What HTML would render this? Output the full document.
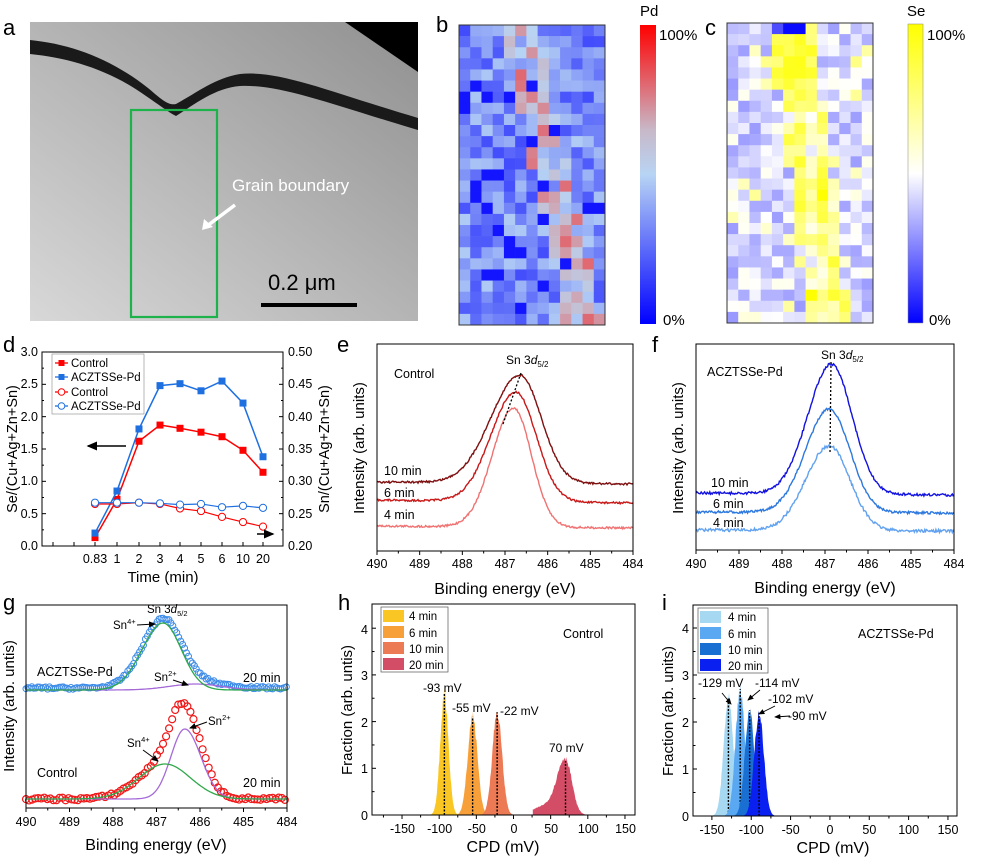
<!DOCTYPE html>
<html><head><meta charset="utf-8"><style>
body{margin:0;background:#fff}
svg{display:block;font-family:"Liberation Sans",Arial,sans-serif}
</style></head><body>
<svg id="s" width="1000" height="860" viewBox="0 0 1000 860" xmlns="http://www.w3.org/2000/svg">
<defs>
<linearGradient id="tem" x1="0" y1="1" x2="1" y2="0">
<stop offset="0" stop-color="#d8d8d8"/><stop offset="0.45" stop-color="#b8b8b8"/><stop offset="1" stop-color="#909090"/>
</linearGradient>
<linearGradient id="cbPd" x1="0" y1="1" x2="0" y2="0">
<stop offset="0" stop-color="#0000ff"/><stop offset="0.5" stop-color="#b8d4f4"/><stop offset="0.65" stop-color="#c8b8c8"/><stop offset="1" stop-color="#ff0000"/>
</linearGradient>
<linearGradient id="cbSe" x1="0" y1="1" x2="0" y2="0">
<stop offset="0" stop-color="#0000ff"/><stop offset="0.5" stop-color="#ffffff"/><stop offset="1" stop-color="#ffff00"/>
</linearGradient>
<marker id="ah" markerWidth="8" markerHeight="8" refX="6" refY="4" orient="auto"><path d="M0,1 L7,4 L0,7 z" fill="#000"/></marker>
</defs>

<!-- panel a -->
<rect x="30" y="22" width="388" height="299" fill="url(#tem)"/>
<path d="M30,40 C70,44 110,58 148,88 C160,98 168,106 176,104 C198,92 215,78 240,74 C280,70 330,92 418,118 L418,130 C330,104 280,84 240,86 C215,88 195,104 176,116 C168,112 158,104 146,96 C110,70 70,58 30,54 Z" fill="#1a1a1a"/>
<path d="M345,22 L418,22 L418,72 Z" fill="#000"/>
<rect x="131" y="110" width="86" height="207" fill="none" stroke="#1db34a" stroke-width="2.2"/>
<text x="232" y="191" font-size="17" fill="#fff">Grain boundary</text>
<line x1="235" y1="205" x2="207" y2="226" stroke="#fff" stroke-width="3.5"/>
<path d="M202,230 L204,219 L213,227 Z" fill="#fff"/>
<text x="268" y="290" font-size="22" fill="#000">0.2 μm</text>
<rect x="261" y="303" width="96" height="4" fill="#000"/>
<text x="3" y="35" font-size="22">a</text>

<!-- panel b/c -->
<text x="436" y="32" font-size="22">b</text>
<g id="hb"></g>
<rect x="459" y="25" width="146" height="300" fill="none" stroke="#333" stroke-width="1"/>
<rect x="640" y="25" width="16" height="299" fill="url(#cbPd)"/>
<text x="640" y="16" font-size="15">Pd</text>
<text x="659" y="40" font-size="15">100%</text>
<text x="663" y="325" font-size="15">0%</text>

<text x="705" y="35" font-size="22">c</text>
<g id="hc"></g>
<rect x="727" y="23" width="146" height="300" fill="none" stroke="#333" stroke-width="1"/>
<rect x="908" y="24" width="15" height="299" fill="url(#cbSe)" stroke="#888" stroke-width="0.5"/>
<text x="907" y="16" font-size="15">Se</text>
<text x="927" y="40" font-size="15">100%</text>
<text x="929" y="325" font-size="15">0%</text>

<!-- panel d -->
<text x="3" y="352" font-size="22">d</text>
<g id="gd"></g>
<rect x="42" y="352" width="241" height="194" fill="none" stroke="#000" stroke-width="1"/>
<g font-size="12.5" text-anchor="end">
<text x="38" y="550">0.0</text><text x="38" y="518">0.5</text><text x="38" y="485">1.0</text><text x="38" y="453">1.5</text><text x="38" y="421">2.0</text><text x="38" y="388">2.5</text><text x="38" y="356">3.0</text>
</g>
<g font-size="12.5">
<text x="288" y="550">0.20</text><text x="288" y="518">0.25</text><text x="288" y="485">0.30</text><text x="288" y="453">0.35</text><text x="288" y="421">0.40</text><text x="288" y="388">0.45</text><text x="288" y="356">0.50</text>
</g>
<g font-size="12.5" text-anchor="middle">
<text x="95" y="563">0.83</text><text x="117" y="563">1</text><text x="139" y="563">2</text><text x="160" y="563">3</text><text x="180" y="563">4</text><text x="201" y="563">5</text><text x="222" y="563">6</text><text x="243" y="563">10</text><text x="263" y="563">20</text>
</g>
<text x="163" y="582" font-size="15" text-anchor="middle">Time (min)</text>
<text transform="translate(17,449) rotate(-90)" font-size="14.5" text-anchor="middle">Se/(Cu+Ag+Zn+Sn)</text>
<text transform="translate(329,449) rotate(-90)" font-size="14.5" text-anchor="middle">Sn/(Cu+Ag+Zn+Sn)</text>
<rect x="52" y="354" width="92" height="60" fill="#fff" stroke="#888" stroke-width="0.6"/>
<g font-size="11.5">
<line x1="55" y1="363" x2="68" y2="363" stroke="#f00" stroke-width="1.3"/><rect x="58.5" y="360" width="6" height="6" fill="#f00"/><text x="71" y="367">Control</text>
<line x1="55" y1="377" x2="68" y2="377" stroke="#1e6fe0" stroke-width="1.3"/><rect x="58.5" y="374" width="6" height="6" fill="#1e6fe0"/><text x="71" y="381">ACZTSSe-Pd</text>
<line x1="55" y1="392" x2="68" y2="392" stroke="#f00" stroke-width="1.3"/><circle cx="61.5" cy="392" r="3.3" fill="#fff" stroke="#f00"/><text x="71" y="396">Control</text>
<line x1="55" y1="406" x2="68" y2="406" stroke="#1e6fe0" stroke-width="1.3"/><circle cx="61.5" cy="406" r="3.3" fill="#fff" stroke="#1e6fe0"/><text x="71" y="410">ACZTSSe-Pd</text>
</g>
<line x1="126" y1="446" x2="88" y2="446" stroke="#000" stroke-width="1.5" marker-end="url(#ah)"/>
<line x1="257" y1="534" x2="273" y2="534" stroke="#000" stroke-width="1.5" marker-end="url(#ah)"/>

<!-- panel e -->
<text x="337" y="352" font-size="22">e</text>
<g id="ge"></g>
<rect x="377" y="344" width="256" height="207" fill="none" stroke="#000" stroke-width="1"/>
<text x="394" y="378" font-size="12.5">Control</text>
<text x="506" y="364" font-size="12">Sn 3<tspan font-style="italic">d</tspan><tspan font-size="8" dy="3">5/2</tspan></text>
<line x1="503" y1="424" x2="521" y2="373" stroke="#000" stroke-width="1.3" stroke-dasharray="2,2"/>
<g font-size="12.5"><text x="384" y="475">10 min</text><text x="384" y="497">6 min</text><text x="384" y="519">4 min</text></g>
<g id="xe" font-size="12.5" text-anchor="middle"></g>
<text x="505" y="594" font-size="16" text-anchor="middle">Binding energy (eV)</text>
<text transform="translate(364,448) rotate(-90)" font-size="15" text-anchor="middle">Intensity (arb. units)</text>

<!-- panel f -->
<text x="652" y="352" font-size="22">f</text>
<g id="gf"></g>
<rect x="696" y="344" width="258" height="206" fill="none" stroke="#000" stroke-width="1"/>
<text x="707" y="376" font-size="12.5">ACZTSSe-Pd</text>
<text x="821" y="359" font-size="12">Sn 3<tspan font-style="italic">d</tspan><tspan font-size="8" dy="3">5/2</tspan></text>
<line x1="831" y1="362" x2="830" y2="454" stroke="#000" stroke-width="1.3" stroke-dasharray="2,2"/>
<g font-size="12.5"><text x="711" y="487">10 min</text><text x="713" y="508">6 min</text><text x="713" y="527">4 min</text></g>
<g id="xf" font-size="12.5" text-anchor="middle"></g>
<text x="825" y="593" font-size="16" text-anchor="middle">Binding energy (eV)</text>
<text transform="translate(683,448) rotate(-90)" font-size="15" text-anchor="middle">Intensity (arb. units)</text>

<!-- panel g -->
<text x="3" y="610" font-size="22">g</text>
<g id="gg"></g>
<rect x="26" y="605" width="261" height="203" fill="none" stroke="#000" stroke-width="1"/>
<text x="147" y="613" font-size="11.5">Sn 3<tspan font-style="italic">d</tspan><tspan font-size="7.5" dy="3">5/2</tspan></text>
<text x="113" y="629" font-size="11.5">Sn<tspan font-size="7.5" dy="-5">4+</tspan></text>
<line x1="137" y1="625" x2="155" y2="624" stroke="#000" stroke-width="1" marker-end="url(#ah)"/>
<text x="37" y="676" font-size="12.5">ACZTSSe-Pd</text>
<text x="154" y="681" font-size="11.5">Sn<tspan font-size="7.5" dy="-5">2+</tspan></text>
<line x1="173" y1="680" x2="188" y2="685" stroke="#000" stroke-width="1" marker-end="url(#ah)"/>
<text x="243" y="682" font-size="12.5">20 min</text>
<text x="208" y="725" font-size="11.5">Sn<tspan font-size="7.5" dy="-5">2+</tspan></text>
<line x1="207" y1="722" x2="190" y2="728" stroke="#000" stroke-width="1" marker-end="url(#ah)"/>
<text x="127" y="747" font-size="11.5">Sn<tspan font-size="7.5" dy="-5">4+</tspan></text>
<line x1="143" y1="750" x2="158" y2="761" stroke="#000" stroke-width="1" marker-end="url(#ah)"/>
<text x="37" y="777" font-size="12.5">Control</text>
<text x="243" y="787" font-size="12.5">20 min</text>
<g id="xg" font-size="12.5" text-anchor="middle"></g>
<text x="156" y="850" font-size="16" text-anchor="middle">Binding energy (eV)</text>
<text transform="translate(14,706) rotate(-90)" font-size="15" text-anchor="middle">Intensity (arb. untis)</text>

<!-- panel h -->
<text x="338" y="610" font-size="22">h</text>
<g id="gh"></g>
<rect x="372" y="604" width="263" height="211" fill="none" stroke="#000" stroke-width="1"/>
<text x="563" y="638" font-size="12.5">Control</text>
<rect x="381" y="607" width="67" height="65" fill="#fff" stroke="#555" stroke-width="0.7"/>
<g font-size="11.5">
<rect x="383" y="610" width="21" height="12" fill="#f9c623"/><text x="409" y="620">4 min</text>
<rect x="383" y="626" width="21" height="12" fill="#f7a03a"/><text x="409" y="637">6 min</text>
<rect x="383" y="642" width="21" height="12" fill="#ec7a55"/><text x="409" y="653">10 min</text>
<rect x="383" y="658" width="21" height="12" fill="#d44d66"/><text x="409" y="669">20 min</text>
</g>
<g font-size="12"><text x="423" y="692">-93 mV</text><text x="452" y="712">-55 mV</text><text x="500" y="715">-22 mV</text><text x="549" y="752">70 mV</text></g>
<g font-size="12.5" text-anchor="end"><text x="368" y="820">0</text><text x="368" y="773">1</text><text x="368" y="727">2</text><text x="368" y="680">3</text><text x="368" y="634">4</text></g>
<g id="xh" font-size="12.5" text-anchor="middle"></g>
<text x="503" y="852" font-size="16" text-anchor="middle">CPD (mV)</text>
<text transform="translate(352,710) rotate(-90)" font-size="15" text-anchor="middle">Fraction (arb. untis)</text>

<!-- panel i -->
<text x="662" y="610" font-size="22">i</text>
<g id="gi"></g>
<rect x="693" y="605" width="264" height="211" fill="none" stroke="#000" stroke-width="1"/>
<text x="858" y="638" font-size="12.5">ACZTSSe-Pd</text>
<rect x="698" y="608" width="70" height="65" fill="#fff" stroke="#555" stroke-width="0.7"/>
<g font-size="11.5">
<rect x="700" y="611" width="21" height="12" fill="#a6d8f2"/><text x="728" y="621">4 min</text>
<rect x="700" y="627" width="21" height="12" fill="#5aa8f2"/><text x="728" y="638">6 min</text>
<rect x="700" y="643" width="21" height="12" fill="#1a70d2"/><text x="728" y="654">10 min</text>
<rect x="700" y="659" width="21" height="12" fill="#0a20f0"/><text x="728" y="670">20 min</text>
</g>
<g font-size="12"><text x="698" y="687">-129 mV</text><text x="755" y="687">-114 mV</text><text x="768" y="703">-102 mV</text><text x="788" y="720">-90 mV</text></g>
<g stroke="#000" stroke-width="0.9">
<line x1="722" y1="693" x2="731" y2="704" marker-end="url(#ah)"/>
<line x1="760" y1="690" x2="748" y2="700" marker-end="url(#ah)"/>
<line x1="775" y1="706" x2="759" y2="714" marker-end="url(#ah)"/>
<line x1="790" y1="716" x2="775" y2="717" marker-end="url(#ah)"/>
</g>
<g font-size="12.5" text-anchor="end"><text x="689" y="821">0</text><text x="689" y="774">1</text><text x="689" y="727">2</text><text x="689" y="680">3</text><text x="689" y="633">4</text></g>
<g id="xi" font-size="12.5" text-anchor="middle"></g>
<text x="833" y="853" font-size="16" text-anchor="middle">CPD (mV)</text>
<text transform="translate(673,711) rotate(-90)" font-size="15" text-anchor="middle">Fraction (arb. units)</text>
</svg>
<script>
var NS="http://www.w3.org/2000/svg";
var seed=7;function rnd(){seed=(seed*16807)%2147483647;return (seed-1)/2147483646;}
function el(p,t,a){var e=document.createElementNS(NS,t);for(var k in a)e.setAttribute(k,a[k]);document.getElementById(p).appendChild(e);return e;}
function lerp(a,b,t){return a+(b-a)*t}
function mix(c1,c2,t){return "rgb("+[0,1,2].map(function(i){return Math.round(lerp(c1[i],c2[i],t))}).join(",")+")"}
function pdCol(v){var st=[[0,[0,0,255]],[0.5,[184,212,244]],[0.65,[200,184,200]],[1,[255,0,0]]];for(var i=1;i<st.length;i++)if(v<=st[i][0]){return mix(st[i-1][1],st[i][1],(v-st[i-1][0])/(st[i][0]-st[i-1][0]))}return "rgb(255,0,0)"}
function seCol(v){return v<0.5?mix([0,0,255],[255,255,255],v/0.5):mix([255,255,255],[255,255,0],(v-0.5)/0.5)}
var cw=146/13,ch=300/27;
for(var r=0;r<27;r++)for(var c=0;c<13;c++){
 var center=5+r*5.5/26;var d=Math.abs(c-center);
 var v=0.18+rnd()*0.3+(d<1.6?0.28*rnd()+0.12:0);if(rnd()<0.06)v=0.05;v=Math.min(1,v);
 el("hb","rect",{x:459+c*cw,y:25+r*ch,width:cw+0.3,height:ch+0.3,fill:pdCol(v)});
 var cc=5.5+r*3/26;var d2=Math.abs(c-cc);
 var w=0.3+rnd()*0.24+(d2<1.8?0.3*rnd()+0.12:0);if(rnd()<0.08)w+=0.2;if(r<6&&c>=4&&c<=7)w=0.75+rnd()*0.2;w=Math.min(1,w);
 if(r==0&&(c==5||c==6))w=0.02;if(r==0&&c==4)w=0.15;
 el("hc","rect",{x:727+c*cw,y:23+r*ch,width:cw+0.3,height:ch+0.3,fill:seCol(w)});
}
(function(){
var xs=[95,117,139,160,180,201,222,243,263];
function yl(v){return 546-v*64.67} function yr(v){return 546-(v-0.2)/0.3*194}
[[0.13,0.72,1.62,1.87,1.82,1.76,1.69,1.48,1.14,"#f00"],[0.2,0.85,1.81,2.48,2.51,2.40,2.55,2.21,1.38,"#1e6fe0"]].forEach(function(s){
 var p=xs.map(function(x,i){return x+","+yl(s[i])}).join(" ");el("gd","polyline",{points:p,fill:"none",stroke:s[9],"stroke-width":1.5});
 xs.forEach(function(x,i){el("gd","rect",{x:x-3.5,y:yl(s[i])-3.5,width:7,height:7,fill:s[9]})});});
[[0.265,0.265,0.267,0.265,0.258,0.254,0.245,0.237,0.230,"#f00"],[0.267,0.267,0.267,0.266,0.264,0.265,0.26,0.262,0.259,"#1e6fe0"]].forEach(function(s){
 var p=xs.map(function(x,i){return x+","+yr(s[i])}).join(" ");el("gd","polyline",{points:p,fill:"none",stroke:s[9],"stroke-width":1.2});
 xs.forEach(function(x,i){el("gd","circle",{cx:x,cy:yr(s[i]),r:3.6,fill:"#fff",stroke:s[9],"stroke-width":1})});});
for(var v=0;v<=3.01;v+=0.25){var y=yl(v);el("gd","line",{x1:42,y1:y,x2:v%0.5==0?46:44,y2:y,stroke:"#000"});el("gd","line",{x1:283,y1:y,x2:v%0.5==0?279:281,y2:y,stroke:"#000"});}
var tx=[53,74,95,117,139,160,180,201,222,243,263];tx.forEach(function(x){el("gd","line",{x1:x,y1:546,x2:x,y2:542,stroke:"#000"})});
})();
function gauss(x,c,s){return Math.exp(-(x-c)*(x-c)/(2*s*s))}
function axisX(id,x0,x1,yb,lo,hi,step,minor){for(var v=lo;v<=hi+1e-6;v+=minor){var x=x0+(v-lo)/(hi-lo)*(x1-x0);var major=Math.abs(((v-lo)/step)-Math.round((v-lo)/step))<1e-6;el(id,"line",{x1:x,y1:yb,x2:x,y2:yb+(major?4:2.5),stroke:"#000"});}}
function labelsX(id,x0,x1,y,lo,hi,step,rev){for(var v=lo;v<=hi+1e-6;v+=step){var x=x0+(v-lo)/(hi-lo)*(x1-x0);var t=el(id,"text",{x:x,y:y});t.textContent=rev?String(Math.round(rev-v)):String(Math.round(v));}}
function spec(id,x0,x1,curves){
 curves.forEach(function(c){var pts=[];for(var i=0;i<=300;i++){var e=490-i*6/300;var x=x0+(i/300)*(x1-x0);
  var sg=e>c.c?c.sl:c.sr;var b=lerp(c.bl,c.br,i/300);var y=b-(b-c.pk)*gauss(e,c.c,sg)+(rnd()-0.5)*c.n;pts.push(x.toFixed(1)+","+y.toFixed(1));}
  el(id,"polyline",{points:pts.join(" "),fill:"none",stroke:c.col,"stroke-width":1.4});});
}
spec("ge",377,633,[{c:486.8,sl:0.5,sr:0.42,bl:526,br:528,pk:408,col:"#f07272",n:2},{c:486.75,sl:0.58,sr:0.48,bl:500,br:503,pk:392,col:"#c81818",n:2},{c:486.65,sl:0.68,sr:0.5,bl:482,br:484,pk:375,col:"#7e1010",n:2}]);
spec("gf",696,954,[{c:486.9,sl:0.55,sr:0.48,bl:530,br:531,pk:446,col:"#62a2ef",n:3},{c:486.9,sl:0.55,sr:0.48,bl:512,br:513,pk:409,col:"#2c78de",n:2.5},{c:486.85,sl:0.55,sr:0.48,bl:493,br:495,pk:364,col:"#1212e0",n:2.5}]);
[["xe",377,633,551,568],["xf",696,954,550,568],["xg",26,287,808,826]].forEach(function(a){
 var g=a[0]=="xe"?"ge":a[0]=="xf"?"gf":"gg";axisX(g,a[1],a[2],a[3],0,6,1,0.5);labelsX(a[0],a[1],a[2],a[4],0,6,1,490);});
(function(){var x0=26,x1=287;function X(e){return x0+(490-e)/6*(x1-x0)}
 function line(f,col){var p=[];for(var i=0;i<=200;i++){var e=490-i*0.03;p.push(X(e).toFixed(1)+","+f(e).toFixed(1));}el("gg","polyline",{points:p.join(" "),fill:"none",stroke:col,"stroke-width":1.3});}
 var b1=690;
 function g4t(e){return 67*gauss(e,486.85,e>486.85?0.48:0.42)} function g2t(e){return 6*gauss(e,486.1,0.6)}
 for(var e=490;e>=484;e-=0.045){el("gg","circle",{cx:X(e),cy:b1-g4t(e)-g2t(e)-2-(rnd()-0.5)*2.5,r:3,fill:"none",stroke:"#3d8be8","stroke-width":1});}
 line(function(e){return b1-g2t(e)},"#a56ad8");line(function(e){return b1-g4t(e)},"#2fa84a");
 var b2=799;
 function g4c(e){return 35*gauss(e,486.8,e>486.8?0.6:0.58)} function g2c(e){return 70*gauss(e,486.35,e>486.35?0.32:0.37)}
 for(var e=490;e>=484;e-=0.07){el("gg","circle",{cx:X(e),cy:b2-g4c(e)-g2c(e)-(rnd()-0.5)*3,r:3.5,fill:"none",stroke:"#f01818","stroke-width":1.2});}
 line(function(e){return b2-g2c(e)},"#a56ad8");line(function(e){return b2-g4c(e)},"#2fa84a");
})();
function hist(id,x0,x1,lo,hi,yb,pu,peaks){
 function X(v){return x0+(v-lo)/(hi-lo)*(x1-x0)}
 peaks.forEach(function(p){var pts=[X(p.c-4*p.sl)+","+yb];for(var v=p.c-4*p.sl;v<=p.c+4*p.sr;v+=0.8){var s=v<p.c?p.sl:p.sr;var h=p.h*gauss(v,p.c,s)+(p.tail?p.tail*gauss(v,p.c-25,18):0);h*=1+(rnd()-0.5)*0.12;pts.push(X(v).toFixed(1)+","+(yb-h*pu).toFixed(1));}
  pts.push(X(p.c+4*p.sr)+","+yb);el(id,"polygon",{points:pts.join(" "),fill:p.col});
  el(id,"line",{x1:X(p.c),y1:yb,x2:X(p.c),y2:yb-p.h*pu,stroke:"#000","stroke-width":1.4,"stroke-dasharray":"2,1.5"});});
 for(var v=-175;v<=150;v+=25){var x=X(v);if(x<x0||x>x1)continue;var mj=v%50==0;el(id,"line",{x1:x,y1:yb,x2:x,y2:yb+(mj?4:2.5),stroke:"#000"});}
 for(var k=0;k<=4;k+=0.5){var y=yb-k*pu;el(id,"line",{x1:x0,y1:y,x2:x0+(k%1==0?4:2.5),y2:y,stroke:"#000"});}
}
hist("gh",372,635,-190.4,163.5,815,46.7,[{c:-93,sl:5.5,sr:5.5,h:2.6,col:"#f9c623"},{c:-55,sl:6.5,sr:6.5,h:2.1,col:"#f7a03a"},{c:-22,sl:6.5,sr:6.5,h:2.2,col:"#ec7a55"},{c:70,sl:11,sr:8.5,h:1.15,col:"#d44d66",tail:0.2}]);
hist("gi",693,957,-174,161.5,816,47,[{c:-129,sl:6,sr:6,h:2.5,col:"#a6d8f2"},{c:-114,sl:6,sr:6,h:2.7,col:"#5aa8f2"},{c:-102,sl:6,sr:6,h:2.25,col:"#1a70d2"},{c:-90,sl:6,sr:6,h:2.2,col:"#0a20f0"}]);
[["xh",402.5,625.5,833],["xi",712,948,834]].forEach(function(a){for(var i=0;i<7;i++){var t=el(a[0],"text",{x:a[1]+i*(a[2]-a[1])/6,y:a[3]});t.textContent=String(-150+i*50);}});
</script>
</body></html>
